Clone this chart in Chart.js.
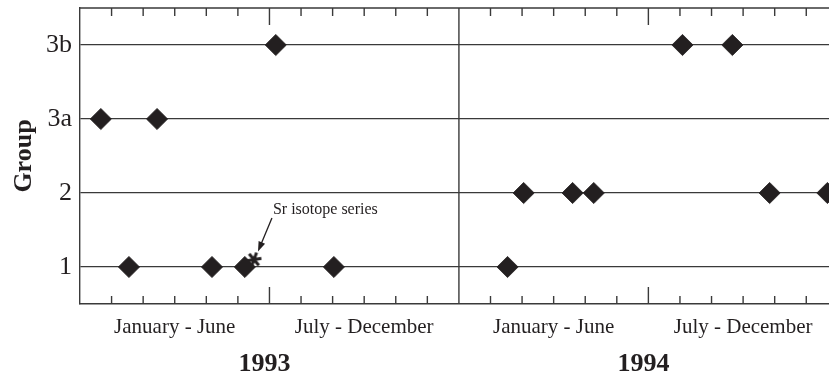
<!DOCTYPE html>
<html>
<head>
<meta charset="utf-8">
<script src="https://cdn.jsdelivr.net/npm/chart.js@4.4.1/dist/chart.umd.min.js"></script>
<style>
  html, body { margin: 0; padding: 0; background: #fff; }
  #wrap { width: 829px; height: 376px; }
</style>
</head>
<body>
<div id="wrap"><canvas id="chartGroup"></canvas></div>
<script>
// --- DATA (x = months counted from 1 January 1993) ---
const groupLabels = ['1', '2', '3a', '3b'];
const group1Months = [1.55, 4.18, 5.22, 8.04, 13.54];
const group2Months = [14.05, 15.6, 16.27, 21.84, 23.67];
const group3aMonths = [0.66, 2.44];
const group3bMonths = [6.2, 19.08, 20.66];
const srIsotopeMonth = [5.51];
const srIsotopeGroup = [1.1];
const srLabelAt = [6.11, 1.77];

const monthTicks = [1, 2, 3, 4, 5, 6, 7, 8, 9, 10, 11, 13, 14, 15, 16, 17, 18, 19, 20, 21, 22, 23];
const majorTicks = [6, 18];
const yearBreaks = [12];
const halfYearLabels = ['January - June', 'July - December', 'January - June', 'July - December'];
const halfYearCentres = [3, 9, 15, 21];
const yearLabels = ['1993', '1994'];
const yearCentres = [6, 18];
const xMax = 23.72;

// --- STYLE ---
const ink = '#231f20';
const lineColor = '#3a3a3a';
const serif = '"Liberation Serif", "Times New Roman", serif';

function pts(months, group) {
    return months.map(m => ({ x: m, y: group }));
}

// asterisk mark for the Sr isotope sample
function asteriskMark(size) {
    const c = document.createElement('canvas');
    c.width = c.height = size;
    const g = c.getContext('2d');
    g.strokeStyle = ink;
    g.lineWidth = 3;
    const r = size / 2 - 1;
    g.beginPath();
    for (let i = 0; i < 3; i++) {
        const a = Math.PI / 2 + 0.35 + i * Math.PI / 3;
        g.moveTo(size / 2 + Math.cos(a) * r, size / 2 + Math.sin(a) * r);
        g.lineTo(size / 2 - Math.cos(a) * r, size / 2 - Math.sin(a) * r);
    }
    g.stroke();
    return c;
}

const frameDecor = {
    id: 'frameDecor',
    beforeDatasetsDraw(chart) {
        const { ctx, chartArea: a, scales: { x } } = chart;
        ctx.save();
        ctx.strokeStyle = lineColor;
        ctx.lineWidth = 1.4;
        ctx.beginPath();
        ctx.moveTo(a.left, a.top);
        ctx.lineTo(a.right, a.top);
        yearBreaks.forEach(m => {
            const px = x.getPixelForValue(m);
            ctx.moveTo(px, a.top);
            ctx.lineTo(px, a.bottom);
        });
        monthTicks.forEach(m => {
            const px = x.getPixelForValue(m);
            const len = majorTicks.includes(m) ? 17 : 8;
            ctx.moveTo(px, a.bottom);
            ctx.lineTo(px, a.bottom - len);
            ctx.moveTo(px, a.top);
            ctx.lineTo(px, a.top + len);
        });
        ctx.stroke();
        ctx.restore();
    },
    afterDraw(chart) {
        const { ctx, chartArea: a, scales: { x, y } } = chart;
        ctx.save();
        ctx.fillStyle = ink;
        ctx.textAlign = 'center';
        ctx.textBaseline = 'middle';

        ctx.font = '21px ' + serif;
        halfYearLabels.forEach((t, i) => {
            ctx.fillText(t, x.getPixelForValue(halfYearCentres[i]), a.bottom + 23);
        });

        ctx.font = 'bold 26px ' + serif;
        yearLabels.forEach((t, i) => {
            ctx.fillText(t, x.getPixelForValue(yearCentres[i]) - 5, a.bottom + 60);
        });

        // Sr isotope annotation
        const lx = x.getPixelForValue(srLabelAt[0]);
        const ly = y.getPixelForValue(srLabelAt[1]);
        ctx.font = '16px ' + serif;
        ctx.textAlign = 'left';
        ctx.fillText('Sr isotope series', lx, ly);

        const sx = x.getPixelForValue(srIsotopeMonth[0]);
        const sy = y.getPixelForValue(srIsotopeGroup[0]);
        const x0 = lx - 1, y0 = ly + 8;
        const x1 = sx + 4, y1 = sy - 8;
        const ang = Math.atan2(y1 - y0, x1 - x0);
        ctx.strokeStyle = ink;
        ctx.lineWidth = 1.3;
        ctx.beginPath();
        ctx.moveTo(x0, y0);
        ctx.lineTo(x1 - Math.cos(ang) * 6, y1 - Math.sin(ang) * 6);
        ctx.stroke();
        ctx.beginPath();
        ctx.moveTo(x1, y1);
        ctx.lineTo(x1 - Math.cos(ang) * 10 + Math.sin(ang) * 3.5, y1 - Math.sin(ang) * 10 - Math.cos(ang) * 3.5);
        ctx.lineTo(x1 - Math.cos(ang) * 10 - Math.sin(ang) * 3.5, y1 - Math.sin(ang) * 10 + Math.cos(ang) * 3.5);
        ctx.closePath();
        ctx.fill();
        ctx.restore();
    }
};

const diamond = {
    pointStyle: 'rectRot',
    pointRadius: 10.6,
    pointBackgroundColor: ink,
    pointBorderColor: ink,
    pointBorderWidth: 0.8,
    clip: false
};

document.addEventListener('DOMContentLoaded', function () {
    const ctxGroup = document.getElementById('chartGroup');
    new Chart(ctxGroup, {
        type: 'scatter',
        data: {
            datasets: [
                Object.assign({ label: 'Group 1', data: pts(group1Months, 1) }, diamond),
                Object.assign({ label: 'Group 2', data: pts(group2Months, 2) }, diamond),
                Object.assign({ label: 'Group 3a', data: pts(group3aMonths, 3) }, diamond),
                Object.assign({ label: 'Group 3b', data: pts(group3bMonths, 4) }, diamond),
                {
                    label: 'Sr isotope series',
                    data: srIsotopeMonth.map((m, i) => ({ x: m, y: srIsotopeGroup[i] })),
                    pointStyle: asteriskMark(17),
                    pointRadius: 8,
                    clip: false
                }
            ]
        },
        options: {
            responsive: true,
            maintainAspectRatio: false,
            animation: false,
            layout: { autoPadding: false, padding: { top: 8, right: 0, bottom: 0, left: 0 } },
            plugins: {
                legend: { display: false },
                tooltip: { enabled: false }
            },
            scales: {
                x: {
                    type: 'linear',
                    min: 0,
                    max: xMax,
                    ticks: { display: false },
                    grid: { display: false, drawTicks: false },
                    border: { display: true, color: lineColor, width: 1.4 },
                    afterFit(s) { s.height = 72; s.paddingLeft = 0; s.paddingRight = 0; }
                },
                y: {
                    min: 0.5,
                    max: 4.5,
                    afterBuildTicks(s) { s.ticks = [1, 2, 3, 4].map(v => ({ value: v })); },
                    ticks: {
                        callback: v => groupLabels[v - 1],
                        font: { family: serif, size: 26 },
                        color: ink,
                        padding: 8
                    },
                    grid: { color: lineColor, lineWidth: 1.3, drawTicks: false },
                    border: { color: lineColor, width: 1.4 },
                    title: {
                        display: true,
                        text: 'Group',
                        font: { family: serif, size: 26, weight: 'bold' },
                        color: ink,
                        padding: { top: 9, bottom: 0 }
                    },
                    afterFit(s) { s.width = 80; s.paddingTop = 0; s.paddingBottom = 0; }
                }
            }
        },
        plugins: [frameDecor]
    });
});
</script>
</body>
</html>
